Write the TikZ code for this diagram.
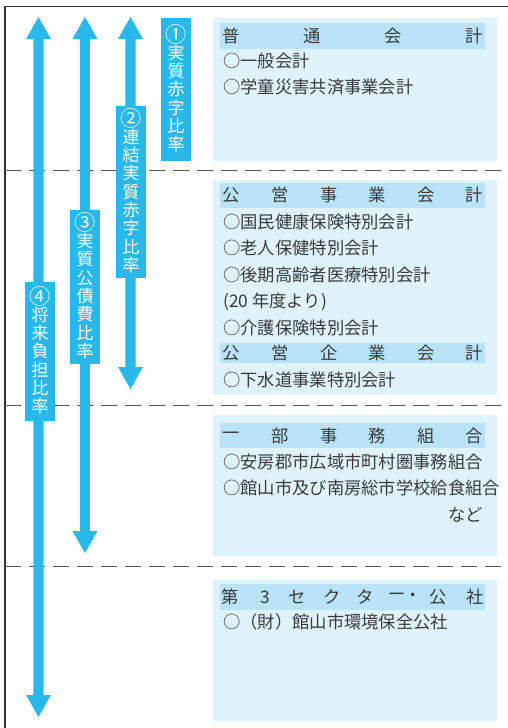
\documentclass[tikz,border=0pt]{standalone}
\usepackage{fontspec}
\setmainfont{Noto Sans CJK JP}
\definecolor{arrowc}{HTML}{29B8EA}
\definecolor{boxc}{HTML}{E0F3FD}
\definecolor{headc}{HTML}{B9E3F9}
\definecolor{txt}{HTML}{3A3A3A}
\definecolor{framec}{HTML}{333333}
\definecolor{dashc}{HTML}{555555}
\newcommand\dblarr[3]{% x, ytop tip, ybottom tip
  \fill[arrowc] (#1,#2) -- ({#1+12.5},{#2+22}) -- ({#1+5.2},{#2+22}) -- ({#1+5.2},{#3-22})
    -- ({#1+12.5},{#3-22}) -- (#1,#3) -- ({#1-12.5},{#3-22}) -- ({#1-5.2},{#3-22})
    -- ({#1-5.2},{#2+22}) -- ({#1-12.5},{#2+22}) -- cycle;}
\newcommand\cnum[1]{\raisebox{-1.5pt}[14pt][2pt]{\scalebox{1.25}{#1}}}
\begin{document}
\begin{tikzpicture}[x=1pt,y=-1pt,
  rbox/.style={fill=boxc, draw=none, anchor=north west, inner sep=0pt, minimum width=284pt},
  headbar/.style={fill=headc, draw=none, anchor=north west, inner sep=0pt, minimum width=265pt},
  item/.style={anchor=west, inner sep=0pt, text=txt, font=\fontsize{17.3}{17.3}\selectfont},
  hch/.style={inner sep=0pt, text=txt, font=\fontsize{17.3}{17.3}\selectfont},
  lab/.style={fill=arrowc, text=white, inner sep=0pt, minimum width=30pt, align=center,
    font=\fontsize{17}{18.3}\selectfont},
  frameline/.style={draw=framec, line width=1.2pt},
  sep/.style={draw=dashc, line width=1pt, dash pattern=on 16pt off 8pt}]
\useasboundingbox (0,0) rectangle (508,728);
\fill[white] (0,0) rectangle (508,728);
% frame
\coordinate (ftr) at (508,6.5);
\coordinate (ftl) at (5,6.5);
\coordinate (fbl) at (5,728);
\draw[frameline] (ftr) -- (ftl) -- (fbl);
% separators
\foreach \yy [count=\i] in {170,405,566} {
  \coordinate (sl\i) at (5,\yy);
  \coordinate (sr\i) at (508,\yy);
  \draw[sep] (sl\i) -- (sr\i);
}
% right boxes
\node[rbox, minimum height=143pt] (g1) at (213,18) {};
\node[rbox, minimum height=215pt] (g2) at (213,180) {};
\node[rbox, minimum height=141pt] (g3) at (213,415) {};
\node[rbox, minimum height=141pt] (g4) at (213,580) {};
% header bars
\node[headbar, minimum height=26pt] (h1) at (220,23) {};
\node[headbar, minimum height=24.5pt] (h2) at (220,183) {};
\node[headbar, minimum height=20pt] (h2b) at (220,343) {};
\node[headbar, minimum height=25pt] (h3) at (220,423) {};
\node[headbar, minimum height=26pt] (h4) at (220,584) {};
% header characters
\foreach \c [count=\i] in {普,通,会,計}
  \node[hch] (h1c\i) at ({231.5+81*(\i-1)},36) {\c};
\foreach \c [count=\i] in {公,営,事,業,会,計}
  \node[hch] (h2c\i) at ({231.5+48.6*(\i-1)},195) {\c};
\foreach \c [count=\i] in {公,営,企,業,会,計}
  \node[hch] (h2bc\i) at ({231.5+48.6*(\i-1)},353) {\c};
\foreach \c [count=\i] in {一,部,事,務,組,合}
  \node[hch] (h3c\i) at ({231.5+48.6*(\i-1)},435.5) {\c};
\foreach \c/\xx [count=\i] in {第/230.5,3/265,セ/297,ク/332,タ/365,ー/397,・/413,公/438,社/475}
  \node[hch] (h4c\i) at (\xx,597) {\c};
% items
\node[item] (i11) at (223,61) {○一般会計};
\node[item] (i12) at (223,87) {○学童災害共済事業会計};
\node[item] (i21) at (223,222) {○国民健康保険特別会計};
\node[item] (i22) at (223,248) {○老人保健特別会計};
\node[item] (i23) at (223,275) {○後期高齢者医療特別会計};
\node[item] (i24) at (223,302) {(20 年度より)};
\node[item] (i25) at (223,328) {○介護保険特別会計};
\node[item] (i26) at (223,380) {○下水道事業特別会計};
\node[item] (i31) at (223,462) {○安房郡市広域市町村圏事務組合};
\node[item] (i32) at (223,488) {○館山市及び南房総市学校給食組合};
\node[item, anchor=east] (i33) at (483,515) {など};
\node[item] (i41) at (223,622) {○（財）館山市環境保全公社};
% arrows
\dblarr{38.5}{17}{717}
\dblarr{85}{17}{553}
\dblarr{130.5}{17}{389}
% labels
\node[lab, minimum height=143pt] (l1) at (176,89.5) {\cnum{①}\\実\\質\\赤\\字\\比\\率};
\node[lab, minimum height=172pt] (l2) at (131,192) {\cnum{②}\\連\\結\\実\\質\\赤\\字\\比\\率};
\node[lab, minimum height=154pt] (l3) at (85,287) {\cnum{③}\\実\\質\\公\\債\\費\\比\\率};
\node[lab, minimum height=139pt] (l4) at (40,351.5) {\cnum{④}\\将\\来\\負\\担\\比\\率};
\end{tikzpicture}
\end{document}
